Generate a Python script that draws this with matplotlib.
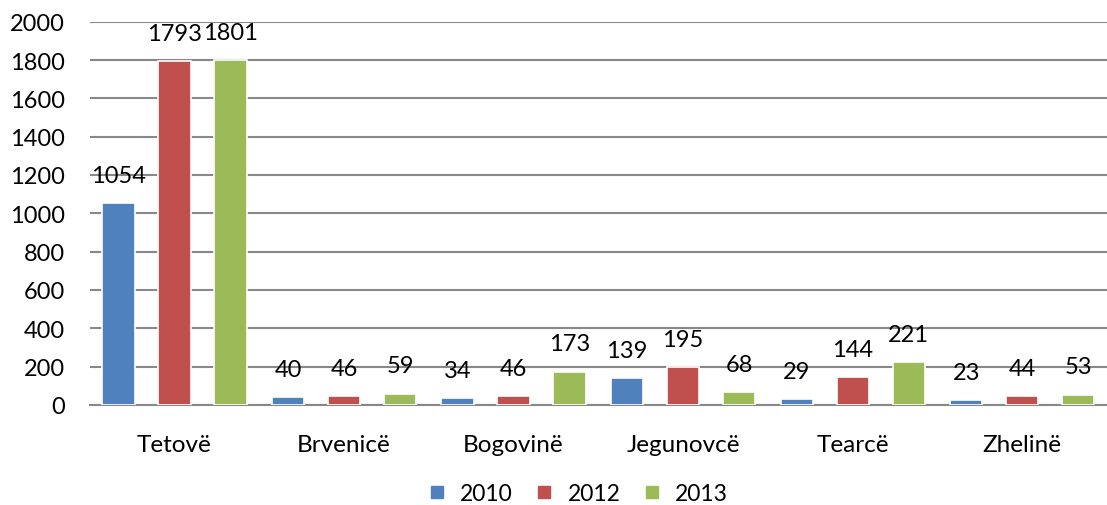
import numpy as np
import matplotlib.pyplot as plt
from matplotlib.lines import Line2D

plt.rcParams['font.family'] = ['Lato', 'DejaVu Sans']

municipalities = ['Tetovë', 'Brvenicë', 'Bogovinë', 'Jegunovcë', 'Tearcë', 'Zhelinë']
years = ['2010', '2012', '2013']
values_2010 = [1054, 40, 34, 139, 29, 23]
values_2012 = [1793, 46, 46, 195, 144, 44]
values_2013 = [1801, 59, 173, 68, 221, 53]

colors = ['#4F81BD', '#C0504D', '#9BBB59']
series = [values_2010, values_2012, values_2013]

fig = plt.figure(figsize=(11.07, 5.06), dpi=100)
ax = fig.add_axes([0.081, 0.198, 0.919, 0.757])

x = np.arange(len(municipalities))
width = 0.19
step = 0.33
for i, (vals, col) in enumerate(zip(series, colors)):
    pos = x + (i - 1) * step
    ax.bar(pos, vals, width, color=col, edgecolor='white', linewidth=1.2, zorder=3)
    for px, v in zip(pos, vals):
        ax.annotate(str(v), (px, v), xytext=(0, 20), textcoords='offset points',
                    ha='center', va='center', fontsize=17, zorder=4)

ax.set_xlim(-0.5, len(municipalities) - 0.5)
ax.set_ylim(0, 2000)
ax.set_yticks(range(0, 2001, 200))
ax.tick_params(axis='y', labelsize=17, length=0, pad=18)
ax.set_xticks(x)
ax.set_xticklabels(municipalities, fontsize=17.5)
ax.tick_params(axis='x', length=0, pad=21)
ax.grid(axis='y', color='#888888', linewidth=1.5, zorder=0)
for s in ['top', 'right', 'left']:
    ax.spines[s].set_visible(False)
ax.spines['bottom'].set_color('#888888')
ax.spines['bottom'].set_linewidth(1.5)

handles = [Line2D([], [], marker='s', linestyle='', markersize=9, color=c) for c in colors]
fig.legend(handles, years, loc='center', bbox_to_anchor=(0.522, 0.022), ncol=3,
           frameon=False, fontsize=16.5, handlelength=0.8, handletextpad=0.6,
           columnspacing=1.0)

fig.savefig('out.png', dpi=100)
